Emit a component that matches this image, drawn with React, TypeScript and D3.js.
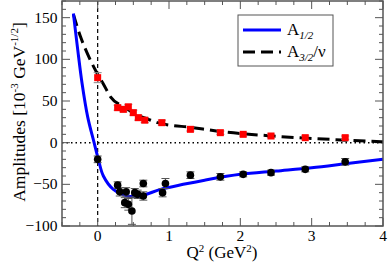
import React, { useEffect, useRef } from "react";
import * as d3 from "d3";

// curves: [Q2, amplitude]
const a12Curve = [
  [-0.34, 155], [-0.28, 112], [-0.22, 72], [-0.14, 31], [-0.05, 0], [0.01, -20],
  [0.08, -40], [0.22, -56], [0.42, -64], [0.6, -64], [0.88, -56], [1.2, -50],
  [1.5, -45], [2, -38], [2.5, -34], [3, -30], [3.5, -25], [4, -20],
];
const a32Curve = [
  [-0.34, 154], [-0.24, 127], [-0.15, 108], [-0.05, 90], [0, 82], [0.07, 72],
  [0.18, 55], [0.39, 42], [0.53, 34], [0.71, 28], [0.84, 24], [1.34, 18],
  [1.76, 13], [2.45, 8], [3, 5], [3.5, 3], [4, 1],
];

// data points: [Q2, value, error]
const a12Points = [
  [0, -20, 4], [0.28, -51, 4], [0.31, -59, 5], [0.4, -59, 5], [0.38, -72, 6],
  [0.43, -74, 7], [0.48, -82, 16], [0.52, -60, 5], [0.56, -62, 5], [0.64, -49, 4],
  [0.64, -64, 5], [0.91, -60, 5], [0.95, -49, 6], [1.3, -39, 4], [1.72, -41, 4],
  [2.04, -38, 3], [2.43, -36, 3], [2.91, -32, 3], [3.47, -23, 4],
];
const a32Points = [
  [0, 78, 6], [0.28, 42, 3], [0.36, 40, 3], [0.43, 43, 3], [0.5, 36, 3],
  [0.57, 30, 3], [0.66, 27, 3], [0.9, 24, 3], [1.3, 16, 2], [1.72, 12, 2],
  [2.04, 10, 2], [2.43, 8, 2], [2.91, 6, 2], [3.47, 6, 2],
];

const xTicks = [0, 1, 2, 3, 4];
const yTicks = [-100, -50, 0, 50, 100, 150];

export default function App() {
  const ref = useRef<SVGSVGElement>(null);

  useEffect(() => {
    const svg = d3.select(ref.current);
    svg.selectAll("*").remove();

    const W = 388, H = 268;
    const margin = { top: 1, right: 5, bottom: 42, left: 62 };
    const x = d3.scaleLinear().domain([-0.5, 4]).range([margin.left, W - margin.right]);
    const y = d3.scaleLinear().domain([-100, 170]).range([H - margin.bottom, margin.top]);
    const font = "'Liberation Serif', 'Times New Roman', serif";
    const frame = "#555";

    const x0 = margin.left, x1 = W - margin.right;
    const y0 = H - margin.bottom, y1 = margin.top;

    // reference lines
    svg.append("line")
      .attr("x1", x0).attr("x2", x1).attr("y1", y(0)).attr("y2", y(0))
      .attr("stroke", "#000").attr("stroke-width", 1.5).attr("stroke-dasharray", "1.5,3");
    svg.append("line")
      .attr("x1", x(0)).attr("x2", x(0)).attr("y1", y1).attr("y2", y0)
      .attr("stroke", "#000").attr("stroke-width", 1.2).attr("stroke-dasharray", "4,3");

    // ticks (inward, all four sides)
    const xMinor = d3.range(-0.5, 4.001, 0.25);
    const yMinor = d3.range(-100, 170.001, 10);
    const tk = svg.append("g").attr("stroke", frame).attr("stroke-width", 1);
    xMinor.forEach((t) => {
      const len = Number.isInteger(t) ? 8 : 4;
      tk.append("line").attr("x1", x(t)).attr("x2", x(t)).attr("y1", y0).attr("y2", y0 - len);
      tk.append("line").attr("x1", x(t)).attr("x2", x(t)).attr("y1", y1).attr("y2", y1 + len);
    });
    yMinor.forEach((t) => {
      const len = t % 50 === 0 ? 8 : 4;
      tk.append("line").attr("x1", x0).attr("x2", x0 + len).attr("y1", y(t)).attr("y2", y(t));
      tk.append("line").attr("x1", x1).attr("x2", x1 - len).attr("y1", y(t)).attr("y2", y(t));
    });

    // tick labels
    svg.append("g").selectAll("text").data(xTicks).join("text")
      .attr("x", (d) => x(d)).attr("y", y0 + 15)
      .attr("text-anchor", "middle").style("font-family", font).style("font-size", "15.5px")
      .text((d) => d);
    svg.append("g").selectAll("text").data(yTicks).join("text")
      .attr("x", x0 - 4.5).attr("y", (d) => y(d) + 5)
      .attr("text-anchor", "end").style("font-family", font).style("font-size", "15.5px")
      .text((d) => (d < 0 ? "\u2212" + Math.abs(d) : String(d)));

    // curves
    const dashLine = d3.line<number[]>().x((d) => x(d[0])).y((d) => y(d[1])).curve(d3.curveMonotoneX);
    const blueLine = d3.line<number[]>().x((d) => x(d[0])).y((d) => y(d[1])).curve(d3.curveCatmullRom.alpha(0.5));
    svg.append("path").datum(a32Curve)
      .attr("fill", "none").attr("stroke", "#000").attr("stroke-width", 3)
      .attr("stroke-dasharray", "12,6").attr("d", dashLine);
    svg.append("path").datum(a12Curve)
      .attr("fill", "none").attr("stroke", "#0000ff").attr("stroke-width", 3)
      .attr("d", blueLine);

    // error bars
    const errs = (pts: number[][], g: any) => {
      pts.forEach((p) => {
        const cx = x(p[0]);
        g.append("line").attr("x1", cx).attr("x2", cx).attr("y1", y(p[1] - p[2])).attr("y2", y(p[1] + p[2]));
        [p[1] - p[2], p[1] + p[2]].forEach((v) =>
          g.append("line").attr("x1", cx - 4).attr("x2", cx + 4).attr("y1", y(v)).attr("y2", y(v)));
      });
    };
    errs(a32Points, svg.append("g").attr("stroke", "#888").attr("stroke-width", 1));
    errs(a12Points, svg.append("g").attr("stroke", "#555").attr("stroke-width", 1));

    // markers
    svg.append("g").selectAll("rect").data(a32Points).join("rect")
      .attr("x", (d) => x(d[0]) - 3.5).attr("y", (d) => y(d[1]) - 3.5)
      .attr("width", 7).attr("height", 7).attr("fill", "#ff0000");
    svg.append("g").selectAll("circle").data(a12Points).join("circle")
      .attr("cx", (d) => x(d[0])).attr("cy", (d) => y(d[1])).attr("r", 3.8)
      .attr("fill", "#000");

    // frame
    svg.append("rect")
      .attr("x", x0).attr("y", y1).attr("width", x1 - x0).attr("height", y0 - y1)
      .attr("fill", "none").attr("stroke", frame).attr("stroke-width", 1.5);

    // legend
    const lg = svg.append("g");
    lg.append("rect").attr("x", 238).attr("y", 15).attr("width", 95).attr("height", 51)
      .attr("fill", "#fff").attr("stroke", frame).attr("stroke-width", 1);
    lg.append("line").attr("x1", 243).attr("x2", 281).attr("y1", 30).attr("y2", 30)
      .attr("stroke", "#0000ff").attr("stroke-width", 3);
    lg.append("line").attr("x1", 243).attr("x2", 281).attr("y1", 52).attr("y2", 52)
      .attr("stroke", "#000").attr("stroke-width", 3).attr("stroke-dasharray", "12,6");
    const t1 = lg.append("text").attr("x", 287).attr("y", 35)
      .style("font-family", font).style("font-size", "17px");
    t1.append("tspan").text("A");
    t1.append("tspan").attr("dy", 4).style("font-size", "11px").attr("font-style", "italic").text("1/2");
    const t2 = lg.append("text").attr("x", 287).attr("y", 57)
      .style("font-family", font).style("font-size", "17px");
    t2.append("tspan").text("A");
    t2.append("tspan").attr("dy", 4).style("font-size", "11px").attr("font-style", "italic").text("3/2");
    t2.append("tspan").attr("dy", -4).text("/ν");

    // axis titles
    const xt = svg.append("text").attr("x", 222).attr("y", 258)
      .attr("text-anchor", "middle").style("font-family", font).style("font-size", "17px");
    xt.append("tspan").text("Q");
    xt.append("tspan").attr("dy", -6).style("font-size", "11px").text("2");
    xt.append("tspan").attr("dy", 6).text(" (GeV");
    xt.append("tspan").attr("dy", -6).style("font-size", "11px").text("2");
    xt.append("tspan").attr("dy", 6).text(")");

    const yt = svg.append("text")
      .attr("transform", `translate(25, 112) rotate(-90)`)
      .attr("text-anchor", "middle").style("font-family", font).style("font-size", "17.5px");
    yt.append("tspan").text("Amplitudes [10");
    yt.append("tspan").attr("dy", -7).style("font-size", "11px").text("-3");
    yt.append("tspan").attr("dy", 7).text(" GeV");
    yt.append("tspan").attr("dy", -7).style("font-size", "11px").text("-1/2");
    yt.append("tspan").attr("dy", 7).text("]");
  }, []);

  return (
    <svg ref={ref} width={388} height={268}
      style={{ position: "absolute", left: 0, top: 0, background: "#fff" }} />
  );
}
